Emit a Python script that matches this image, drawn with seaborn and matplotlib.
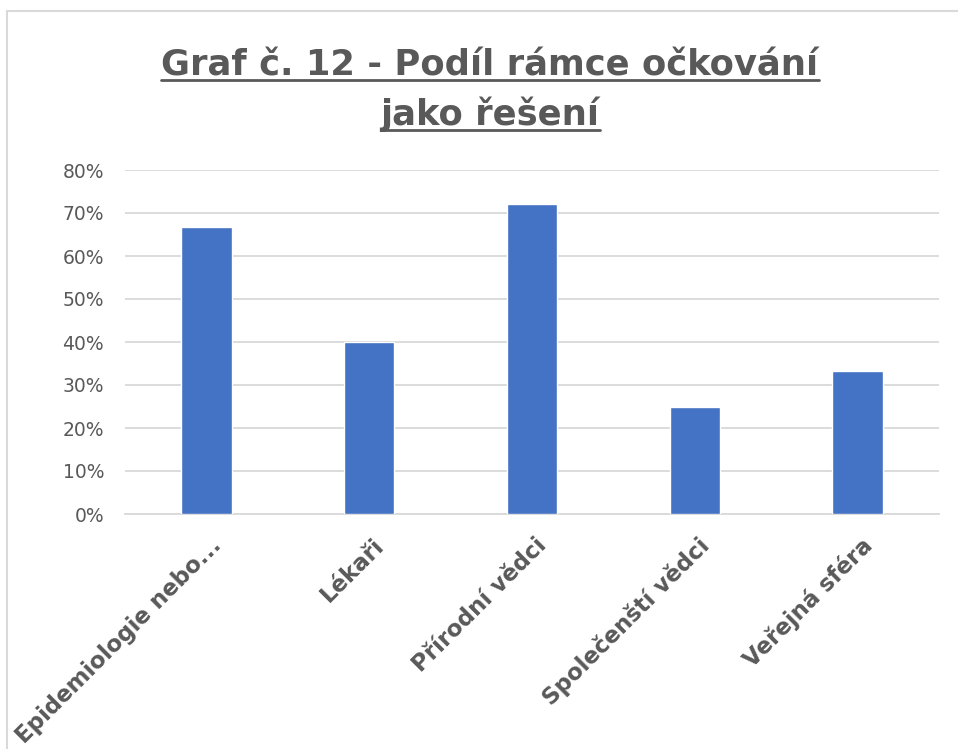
import pandas as pd
import matplotlib
matplotlib.use("Agg")
import matplotlib.pyplot as plt
import seaborn as sns
from matplotlib.lines import Line2D
from matplotlib.patches import Rectangle
from matplotlib.ticker import PercentFormatter
import matplotlib.transforms as mtransforms

# ===========================
# Data
# ===========================

categories = [
    "Epidemiologie nebo...",
    "Lékaři",
    "Přírodní vědci",
    "Společenští vědci",
    "Veřejná sféra",
]
shares = [0.667, 0.40, 0.722, 0.25, 0.333]
y_ticks = [0.0, 0.1, 0.2, 0.3, 0.4, 0.5, 0.6, 0.7, 0.8]

title_lines = ["Graf č. 12 - Podíl rámce očkování", "jako řešení"]

df = pd.DataFrame({"kategorie": categories, "podil": shares})

# ===========================
# Style
# ===========================

sns.set_style("white")
plt.rcParams["font.family"] = ["DejaVu Sans"]

GREY_TEXT = "#595959"
GRID = "#d9d9d9"
BAR = "#4472c4"

W, H, DPI = 958, 749, 100
fig = plt.figure(figsize=(W / DPI, H / DPI), dpi=DPI)
ax = fig.add_axes([125 / W, 1 - 514 / H, 814 / W, 344 / H])

sns.barplot(
    data=df,
    x="kategorie",
    y="podil",
    order=categories,
    color=BAR,
    saturation=1,
    width=0.31,
    ax=ax,
    zorder=3,
)

ax.set_ylim(0, 0.8)
ax.set_yticks(y_ticks)
ax.yaxis.set_major_formatter(PercentFormatter(1.0, decimals=0))
ax.grid(axis="y", color=GRID, linewidth=1.3, zorder=0)
ax.set_axisbelow(True)
ax.set_xlabel("")
ax.set_ylabel("")

for side in ["top", "right", "left"]:
    ax.spines[side].set_visible(False)
ax.spines["bottom"].set_color(GRID)
ax.spines["bottom"].set_linewidth(1.3)

ax.tick_params(axis="y", length=0, pad=15, labelsize=13.5, labelcolor=GREY_TEXT)
ax.tick_params(axis="x", length=0, pad=20, labelsize=16.5, labelcolor=GREY_TEXT)

shift = mtransforms.ScaledTranslation(8 / 72, 0, fig.dpi_scale_trans)
for lab in ax.get_xticklabels():
    lab.set_rotation(45)
    lab.set_ha("right")
    lab.set_va("center")
    lab.set_rotation_mode("anchor")
    lab.set_fontweight("bold")
    lab.set_transform(lab.get_transform() + shift)

# ===========================
# Title with underline
# ===========================

baselines = [75, 125]
texts = []
for line, yb in zip(title_lines, baselines):
    t = fig.text(
        490 / W, 1 - yb / H, line,
        ha="center", va="baseline",
        fontsize=25.5, fontweight="bold", color=GREY_TEXT,
    )
    texts.append((t, yb))

fig.canvas.draw()
renderer = fig.canvas.get_renderer()
for t, yb in texts:
    bb = t.get_window_extent(renderer)
    yu = 1 - (yb + 5) / H
    fig.add_artist(Line2D([bb.x0 / W, bb.x1 / W], [yu, yu],
                          color=GREY_TEXT, linewidth=2, transform=fig.transFigure))

# outer frame
fig.add_artist(Rectangle((7 / W, -0.05), 1.2, 1 - 11 / H + 0.05,
                         transform=fig.transFigure, fill=False,
                         edgecolor=GRID, linewidth=1.5))

plt.savefig("out.png", dpi=DPI)
plt.close()
